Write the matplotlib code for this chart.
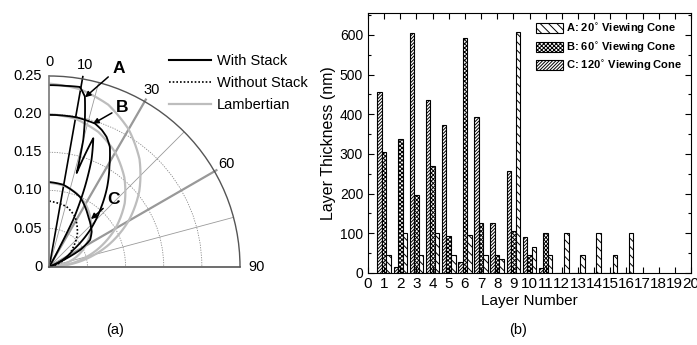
import numpy as np
import matplotlib
matplotlib.use('Agg')
import matplotlib.pyplot as plt
from matplotlib.lines import Line2D
from matplotlib.patches import Patch

plt.rcParams['font.family'] = ['Liberation Sans', 'DejaVu Sans']
plt.rcParams['hatch.linewidth'] = 0.7

# ---------------- (a) angular emission profiles ----------------
# angles in degrees (0 = normal), radiance in a.u.
A_ang = [0, 5, 9.7, 11.8, 13.5, 15.0, 16.3, 18.9, 21.6, 24, 27, 28, 30]
A_rad = [0.238, 0.238, 0.239, 0.228, 0.20, 0.172, 0.128, 0.178, 0.150, 0.115, 0.069, 0.03, 0.0]

B_ang = [0, 10.4, 17.7, 21, 23.8, 26.8, 31, 36, 41, 48, 55, 65, 70]
B_rad = [0.199, 0.199, 0.197, 0.192, 0.186, 0.176, 0.153, 0.129, 0.104, 0.072, 0.038, 0.015, 0.0]

C_ang = [0, 9.7, 23.7, 38, 50.5, 56.7, 61.5, 65, 70]
C_rad = [0.111, 0.109, 0.100, 0.083, 0.072, 0.064, 0.046, 0.02, 0.0]

no_stack_ang = [0, 16, 27, 41, 53, 57, 70, 80]
no_stack_rad = [0.086, 0.082, 0.074, 0.056, 0.037, 0.033, 0.015, 0.0]

lamb_ang = [0, 10, 20, 30, 40, 50, 60, 70, 80, 90]
lamb_A = [0.240, 0.236, 0.226, 0.208, 0.184, 0.154, 0.120, 0.082, 0.042, 0.0]
lamb_B = [0.200, 0.197, 0.188, 0.173, 0.153, 0.129, 0.100, 0.068, 0.035, 0.0]
lamb_C = [0.110, 0.108, 0.103, 0.095, 0.084, 0.071, 0.055, 0.038, 0.019, 0.0]

cone_half = [10, 30, 60]
angle_labels = [0, 10, 30, 60, 90]
r_ticks = [0, 0.05, 0.10, 0.15, 0.20, 0.25]
r_labels = ['0', '0.05', '0.10', '0.15', '0.20', '0.25']

# ---------------- (b) layer thicknesses ----------------
layer = np.arange(1, 17)
cone_A = [45, 100, 45, 100, 45, 95, 45, 35, 608, 65, 45, 100, 45, 100, 45, 100]
cone_B = [305, 337, 197, 270, 93, 593, 125, 45, 105, 45, 100, 0, 0, 0, 0, 0]
cone_C = [457, 15, 605, 435, 372, 28, 392, 125, 257, 90, 12, 0, 0, 0, 0, 0]

W, H = 697, 345
fig = plt.figure(figsize=(W / 100, H / 100), dpi=100)

# polar quarter
ox, oy, R = 49.3, 266.7, 190.7
ax = fig.add_axes([ox / W, (H - oy) / H, R / W, R / H], projection='polar')
ax.set_theta_zero_location('N')
ax.set_theta_direction(-1)
ax.set_thetamin(0)
ax.set_thetamax(90)
ax.set_ylim(0, 0.25)
ax.set_xticks(np.deg2rad([15, 30, 45, 60, 75]))
ax.set_xticklabels([])
ax.set_yticks([0.05, 0.10, 0.15, 0.20])
ax.set_yticklabels([])
ax.tick_params(length=0)
ax.xaxis.grid(True, color='#9a9a9a', lw=0.6, ls='-')
ax.yaxis.grid(True, color='#8a8a8a', lw=0.6, ls=(0, (1.5, 1.5)))
ax.spines['polar'].set_color('#555555')
ax.spines['polar'].set_linewidth(1.0)
ax.spines['start'].set_color('#777777')
ax.spines['end'].set_color('#555555')
ax.spines['start'].set_linewidth(1.2)
ax.spines['end'].set_linewidth(1.2)

th = lambda a: np.deg2rad(a)


def smooth(ln):
    # draw segments as curves in polar space
    ln.get_path()._interpolation_steps = 40
    return ln


for a, c, lw in zip(cone_half, ['black', '#999999', '#999999'], [1.2, 1.6, 1.6]):
    ax.plot([th(a), th(a)], [0, 0.253], color=c, lw=lw, clip_on=False)

for lr in [lamb_A, lamb_B, lamb_C]:
    smooth(ax.plot(th(np.array(lamb_ang)), lr, color='#bdbdbd', lw=1.6)[0])
smooth(ax.plot(th(np.array(no_stack_ang)), no_stack_rad, color='black', lw=1.2,
               ls=(0, (1, 1.2)))[0])
for a_, r_ in [(A_ang, A_rad), (B_ang, B_rad), (C_ang, C_rad)]:
    smooth(ax.plot(th(np.array(a_)), r_, color='black', lw=1.3)[0])

for a in angle_labels:
    rr = 0.272 if a == 90 else 0.268
    ax.text(th(a), rr, str(a), ha='center', va='center', fontsize=10.5)
for r, lab in zip(r_ticks, r_labels):
    ax.annotate(lab, xy=(0, r), xytext=(-5, 0), textcoords='offset points',
                ha='right', va='center', fontsize=10.5)

arrow = dict(arrowstyle='-|>', color='black', lw=1.1, mutation_scale=8, shrinkA=1, shrinkB=0)
for lab, a, r, off in [('A', 11.9, 0.227, (24, 21)), ('B', 17, 0.196, (21, 12)),
                       ('C', 41.2, 0.083, (16, 14))]:
    ax.annotate(lab, xy=(th(a), r), xytext=off, textcoords='offset points',
                fontsize=12.5, fontweight='bold', ha='center', va='center',
                arrowprops=arrow)

handles = [Line2D([], [], color='black', lw=1.5),
           Line2D([], [], color='black', lw=1.2, ls=(0, (1, 1.2))),
           Line2D([], [], color='#bdbdbd', lw=1.6)]
fig.legend(handles, ['With Stack', 'Without Stack', 'Lambertian'],
           loc='upper left', bbox_to_anchor=(169 / W, 1 - 54 / H), frameon=False,
           fontsize=10.5, handlelength=2.9, handletextpad=0.4, labelspacing=0.55,
           borderaxespad=0, borderpad=0)

fig.text(115 / W, 1 - 330 / H, '(a)', ha='center', va='center', fontsize=10.5)

# bar chart
bx = fig.add_axes([368 / W, (H - 273) / H, 323 / W, 260 / H])
w = 0.28
hC, hB, hA = '//////////', 'xxxxxxxx', '\\\\\\\\'
bx.bar(layer - w, cone_C, w, facecolor='white', edgecolor='black', lw=0.8, hatch=hC)
bx.bar(layer, cone_B, w, facecolor='white', edgecolor='black', lw=0.8, hatch=hB)
bx.bar(layer + w, cone_A, w, facecolor='white', edgecolor='black', lw=0.8, hatch=hA)
bx.set_xlim(0, 20)
bx.set_ylim(0, 655)
bx.set_xticks(np.arange(0, 21))
bx.set_yticks(np.arange(0, 700, 100))
bx.set_yticks(np.arange(50, 700, 100), minor=True)
bx.tick_params(which='both', direction='in', top=True, right=True)
bx.tick_params(axis='y', labelsize=10)
bx.tick_params(axis='x', labelsize=11, pad=3)
bx.tick_params(which='major', length=4, width=0.8)
bx.tick_params(which='minor', length=2.5, width=0.8)
bx.set_xlabel('Layer Number', fontsize=11, labelpad=2)
bx.set_ylabel('Layer Thickness (nm)', fontsize=11.5, labelpad=3)

leg_handles = [Patch(facecolor='white', edgecolor='black', lw=0.8, hatch=hA),
               Patch(facecolor='white', edgecolor='black', lw=0.8, hatch=hB),
               Patch(facecolor='white', edgecolor='black', lw=0.8, hatch=hC)]
bx.legend(leg_handles, ['A: 20$^{\\circ}$ Viewing Cone', 'B: 60$^{\\circ}$ Viewing Cone',
                        'C: 120$^{\\circ}$ Viewing Cone'],
          loc='upper right', frameon=False, prop={'weight': 'bold', 'size': 8},
          handlelength=2.4, handleheight=1.0, handletextpad=0.3, labelspacing=0.4,
          borderaxespad=0.5, borderpad=0.3)

fig.text(518 / W, 1 - 330 / H, '(b)', ha='center', va='center', fontsize=10.5)

fig.savefig('out.png', dpi=100)
